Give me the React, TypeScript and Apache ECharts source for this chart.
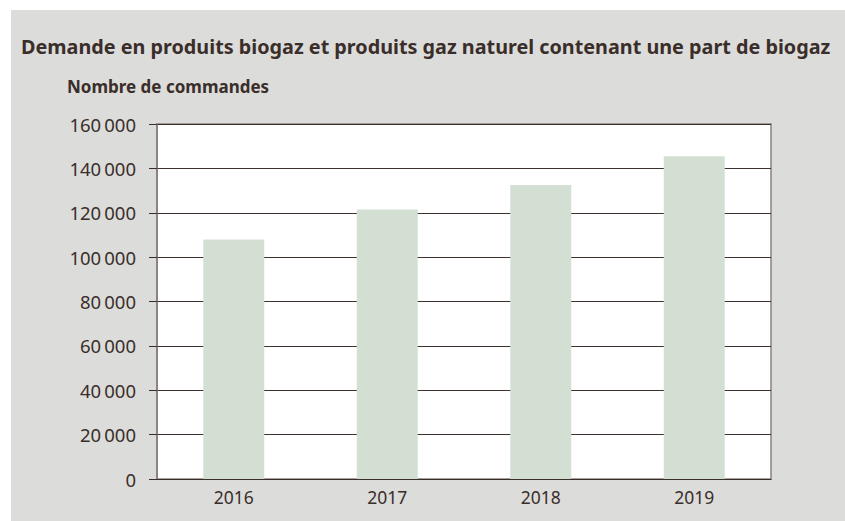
import React, { useEffect, useRef } from "react";
import * as echarts from "echarts";

const categories = ["2016", "2017", "2018", "2019"];
const orders = [108000, 121500, 132500, 145500];
const yTicks = [0, 20000, 40000, 60000, 80000, 100000, 120000, 140000, 160000];

const titleText = "Demande en produits biogaz et produits gaz naturel contenant une part de biogaz";
const yAxisTitle = "Nombre de commandes";

const TEXT = "#3a2e2a";
const FONT = "'Noto Sans', 'Open Sans', sans-serif";

function fmt(v: number): string {
  const s = String(Math.round(v));
  return s.replace(/\B(?=(\d{3})+(?!\d))/g, "\u2009");
}

export default function App() {
  const ref = useRef<HTMLDivElement>(null);
  useEffect(() => {
    if (!ref.current) return;
    const chart = echarts.init(ref.current, undefined, { renderer: "svg" });
    chart.setOption({
      animation: false,
      backgroundColor: "#ffffff",
      graphic: [
        {
          type: "rect",
          z: -10,
          silent: true,
          shape: { x: 11, y: 10, width: 834, height: 511 },
          style: { fill: "#dcdcdb" },
        },
        {
          type: "text",
          left: 67,
          top: 78,
          style: {
            text: yAxisTitle,
            fill: TEXT,
            font: `bold 17px ${FONT}`,
          },
        },
      ],
      title: {
        text: titleText,
        left: 21,
        top: 36,
        padding: 0,
        textStyle: {
          color: TEXT,
          fontFamily: FONT,
          fontWeight: "bold",
          fontSize: 19.8,
        },
      },
      grid: {
        left: 157,
        top: 124,
        right: 74,
        bottom: 42,
        show: true,
        backgroundColor: "#ffffff",
        borderColor: "#8a837e",
        borderWidth: 1.5,
        containLabel: false,
      },
      xAxis: {
        type: "category",
        data: categories,
        axisLine: { show: true, lineStyle: { color: TEXT, width: 1 } },
        axisTick: { show: false },
        axisLabel: {
          color: TEXT,
          fontFamily: FONT,
          fontSize: 17.5,
          margin: 9,
        },
        splitLine: { show: false },
      },
      yAxis: {
        type: "value",
        min: yTicks[0],
        max: yTicks[yTicks.length - 1],
        interval: yTicks[1] - yTicks[0],
        axisLine: { show: true, lineStyle: { color: "#857d78", width: 1.5 } },
        axisTick: { show: true, length: 8, lineStyle: { color: TEXT, width: 1 } },
        axisLabel: {
          color: TEXT,
          fontFamily: FONT,
          fontSize: 18.5,
          margin: 21,
          formatter: (v: number) => fmt(v),
        },
        splitLine: { show: true, lineStyle: { color: "#3b302c", width: 1 } },
      },
      series: [
        {
          type: "bar",
          data: orders,
          barWidth: 61,
          itemStyle: { color: "#d3dfd3" },
          z: 3,
        },
      ],
    });
    return () => chart.dispose();
  }, []);
  return (
    <div
      ref={ref}
      style={{ position: "absolute", left: 0, top: 0, width: 845, height: 521 }}
    />
  );
}
